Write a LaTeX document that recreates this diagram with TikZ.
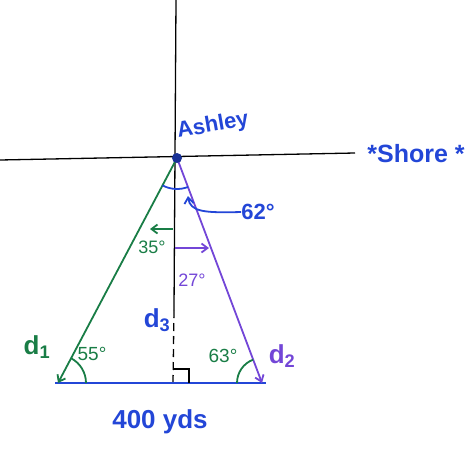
\documentclass[tikz,border=0pt]{standalone}
\usepackage{fontspec}
\setmainfont{Liberation Sans}
\usetikzlibrary{arrows.meta}
\definecolor{pblue}{RGB}{35,70,215}
\definecolor{pgreen}{RGB}{25,125,70}
\definecolor{ppurple}{RGB}{115,70,215}
\begin{document}
\begin{tikzpicture}[x=1pt,y=-1pt,
  lbl/.style={inner sep=0pt,font=\fontsize{22}{24}\selectfont},
  gl/.style={pgreen,line width=1.8pt},
  pl/.style={ppurple,line width=1.8pt},
  bl/.style={pblue,line width=1.8pt},
  kl/.style={black,line width=1.3pt},
  tip/.style={-{Straight Barb[length=6pt,width=9pt]}}]
\useasboundingbox (0,0) rectangle (476,450);
% named points
\coordinate (A) at (177,158);
\coordinate (L) at (58,383);
\coordinate (R) at (262,383);
\coordinate (F) at (173,383);
\coordinate (Vtop) at (176,0);
\coordinate (Vmid) at (174,310);
\coordinate (Hl) at (0,160);
\coordinate (Hr) at (355,153);
\coordinate (BL) at (55,383);
\coordinate (BR) at (266,383);
% axes
\draw[kl] (Vtop) -- (Vmid);
\draw[kl,dashed,dash pattern=on 8pt off 5pt] (Vmid) -- (F);
\draw[kl] (Hl) -- (Hr);
% base
\draw[bl,line width=2.4pt] (BL) -- (BR);
% sides
\draw[gl,tip] (A) -- (L);
\draw[pl,tip] (A) -- (R);
\fill[pblue!70!black] (A) circle (5pt);
% right angle
\draw[kl,line width=1.1pt] (174,369) -- (189,369) -- (189,383);
% angle arcs
\draw[gl] ([shift={(0:28)}]L) arc[start angle=0,end angle=-62,radius=28];
\draw[gl] ([shift={(180:25)}]R) arc[start angle=180,end angle=249,radius=25];
\draw[bl] ([shift={(118:31)}]A) arc[start angle=118,end angle=69,radius=31];
% inner arrows
\coordinate (g1) at (173,229);
\coordinate (g2) at (150,229);
\draw[gl,tip] (g1) -- (g2);
\coordinate (p1) at (175,248);
\coordinate (p2) at (209,248);
\draw[pl,tip] (p1) -- (p2);
% 62 label arrow
\node[lbl,pblue,font=\bfseries\fontsize{22}{24}\selectfont] (a62) at (258,212) {62°};
\coordinate (a62t) at (188,196);
\draw[bl,tip] (a62.west) .. controls (205,213) and (190,212) .. (a62t);
% labels
\node[lbl,pblue,rotate=10,font=\bfseries\fontsize{22}{24}\selectfont] (ash) at (213,126) {Ashley};
\node[lbl,pblue,font=\bfseries\fontsize{25}{27}\selectfont] (shore) at (416,154) {*Shore *};
\node[lbl,pgreen,font=\fontsize{18}{20}\selectfont] (a35) at (152,247) {35°};
\node[lbl,ppurple,font=\fontsize{18}{20}\selectfont] (a27) at (192,280) {27°};
\node[lbl,pblue,font=\bfseries\fontsize{26}{28}\selectfont] (d3) at (157,320) {d\textsubscript{3}};
\node[lbl,pgreen,font=\bfseries\fontsize{26}{28}\selectfont] (d1) at (37,347) {d\textsubscript{1}};
\node[lbl,ppurple,font=\bfseries\fontsize{26}{28}\selectfont] (d2) at (282,356) {d\textsubscript{2}};
\node[lbl,pgreen,font=\fontsize{19}{21}\selectfont] (a55) at (92,354) {55°};
\node[lbl,pgreen,font=\fontsize{19}{21}\selectfont] (a63) at (223,356) {63°};
\node[lbl,pblue,font=\bfseries\fontsize{26}{28}\selectfont] (yds) at (160,422) {400 yds};
\end{tikzpicture}
\end{document}
